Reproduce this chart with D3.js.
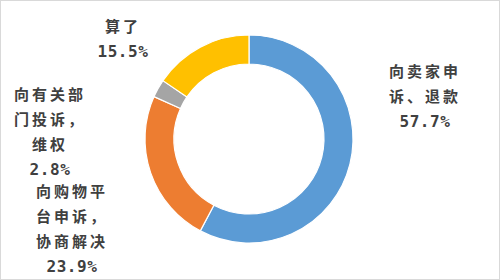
<!DOCTYPE html>
<html>
<head>
<meta charset="utf-8">
<script src="https://cdn.jsdelivr.net/npm/d3@7"></script>
<style>
  body { margin: 0; background: #fff; }
  svg { display: block; }
</style>
</head>
<body>
<div id="chart"></div>
<script>
  var width = 500,
      height = 280,
      cx = 249,
      cy = 139,
      outerR = 104,
      innerR = 75;

  // data
  var categories = ["向卖家申诉、退款", "向购物平台申诉，协商解决", "向有关部门投诉，维权", "算了"];
  var values = [57.7, 23.9, 2.8, 15.5];
  var labelLines = [
    ["向卖家申", "诉、退款"],
    ["向购物平", "台申诉，", "协商解决"],
    ["向有关部", "门投诉，", "维权"],
    ["算了"]
  ];
  var colors = ["#5B9BD5", "#ED7D31", "#A5A5A5", "#FFC000"];

  // where each label block is centred (x) and where its first line sits (y)
  var labelLayout = [[425, 72], [72, 192], [50, 95], [123, 27]];
  var lineH = 24.7;

  var svg = d3.select("#chart").append("svg")
    .attr("width", width)
    .attr("height", height);

  svg.append("rect")
    .attr("x", 0.5).attr("y", 0.5)
    .attr("width", width - 1).attr("height", height - 1)
    .style("fill", "#fff")
    .style("stroke", "#d9d9d9");

  var pie = d3.pie().sort(null).value(d => d);
  var arc = d3.arc().innerRadius(innerR).outerRadius(outerR);

  var g = svg.append("g")
    .attr("transform", "translate(" + cx + "," + cy + ")");

  g.selectAll("path")
    .data(pie(values))
    .enter()
    .append("path")
    .attr("d", arc)
    .style("fill", (d, i) => colors[i])
    .style("stroke", "#fff")
    .style("stroke-width", 1.2);

  var fmt = d3.format(".1f");

  var labels = svg.selectAll("text.lbl")
    .data(categories)
    .enter()
    .append("text")
    .attr("class", "lbl")
    .attr("text-anchor", "middle")
    .style("fill", "#404040")
    .style("font-family", "'DejaVu Sans Mono', 'Noto Sans CJK SC', sans-serif")
    .style("font-size", "15px")
    .style("font-weight", "bold");

  labels.each(function(d, i) {
    var t = d3.select(this),
        pos = labelLayout[i],
        lines = labelLines[i].concat([fmt(values[i]) + "%"]);
    lines.forEach(function(s, j) {
      var isNum = j === lines.length - 1;
      t.append("tspan")
        .attr("x", pos[0])
        .attr("y", pos[1] + j * lineH)
        .attr("dy", "0.35em")
        .style("letter-spacing", isNum ? "0.6px" : "3px")
        .style("font-size", isNum ? "16px" : "15px")
        .text(s);
    });
  });
</script>
</body>
</html>
